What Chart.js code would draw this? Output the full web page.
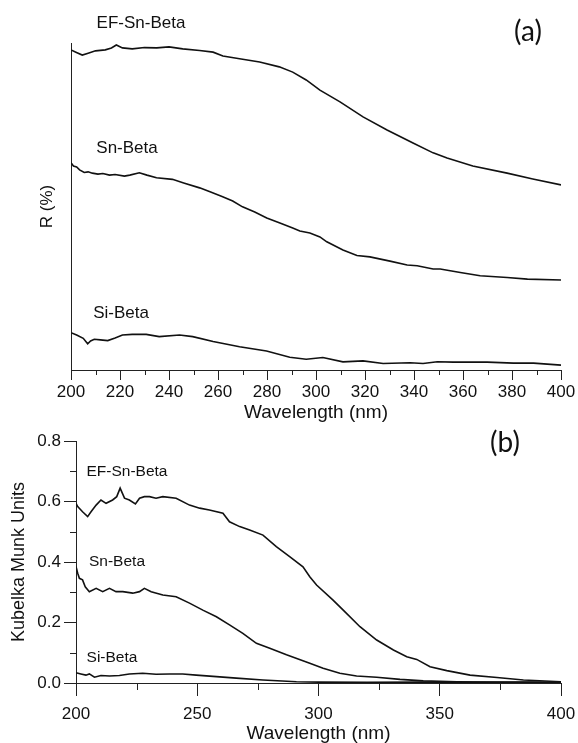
<!DOCTYPE html>
<html><head><meta charset="utf-8">
<script src="https://cdn.jsdelivr.net/npm/chart.js@4.4.1/dist/chart.umd.min.js"></script>
<style>
html,body{margin:0;padding:0;background:#fff;overflow:hidden;width:578px;height:743px;}
canvas{position:absolute;left:0;top:0;}
</style></head><body>
<canvas id="cTop" width="578" height="743"></canvas>
<canvas id="cBot" width="578" height="760"></canvas>
<script>
// ---------- Panel (a): Reflectance (arbitrary R % scale, no ticks shown) ----------
const topNmEF = [200,202,204.6,207,210,214,216.5,218.5,221,225,230,235,240,245.6,252.5,258,262,268.8,277,285,290.5,296,301.6,309.8,319.2,329,339.6,347.8,353.5,364,378,388.5,400];
const topEF   = [97.9,97.2,96.3,96.9,97.6,97.9,98.5,99.4,98.5,98.2,98.6,98.5,98.8,98.2,97.7,97.2,96.0,95.2,94.2,92.7,91.1,88.7,85.6,82.0,77.4,73.4,69.4,66.4,64.8,62.4,60.2,58.4,56.6];

const topNmSn = [200,201,202.3,203.5,205.4,207,208.7,211,213,215.7,218,221.8,224,227.9,231,234.9,241.4,246,252.5,257,261.9,266,270,275,279.9,285,290.5,293.4,297.5,301.6,304.4,311,316.7,322,330.2,337.2,341.3,347.8,350.7,358.9,367,378,386.3,400];
const topSn   = [63.4,62.4,62.1,61.2,60.4,60.6,60.2,59.9,60.1,59.6,59.8,59.3,59.6,60.3,59.6,58.8,58.3,57.2,55.7,54.4,53.0,51.7,49.9,48.3,46.5,45.0,43.4,42.5,41.9,40.7,39.2,36.7,35.0,34.6,33.3,32.1,31.9,30.9,30.9,29.8,28.8,28.3,27.8,27.5];

const topNmSi = [200,202.3,205,206.8,208,209.5,212,215,218,221,225,230.7,236,244.3,249.7,258,268.8,279.8,289.3,296,302.8,311,319.2,327.4,338.4,343.7,349.5,356,369.9,380.6,388.8,400];
const topSi   = [11.4,10.7,9.7,8.0,8.9,9.4,9.2,9.0,9.8,10.7,10.9,10.9,10.2,10.7,10.2,8.7,7.1,5.8,3.9,3.3,3.8,2.5,2.8,2.0,2.2,2.0,2.5,2.4,2.4,2.1,2.1,1.5];

// ---------- Panel (b): Kubelka-Munk ----------
const botNmEF = [200,200.7,202.7,204.8,206.2,208.3,210.3,212.4,215.1,216.8,218.2,220,222,224.5,226.2,228.2,230.3,233,235.8,241.3,246.8,251,255,260.6,263.3,267.5,271.6,277.1,282.6,288.1,293.6,296.4,299.2,306,310.2,317.1,324,330.9,336.4,340.5,346,352.9,362.5,373.6,384.5,400];
const botEF   = [0.594,0.583,0.566,0.55,0.566,0.588,0.605,0.594,0.605,0.616,0.644,0.611,0.605,0.592,0.611,0.616,0.616,0.611,0.616,0.611,0.588,0.578,0.572,0.561,0.533,0.517,0.506,0.489,0.451,0.418,0.384,0.351,0.324,0.274,0.241,0.186,0.142,0.109,0.087,0.078,0.054,0.041,0.026,0.018,0.010,0.004];

const botNmSn = [200,200.7,201.4,202.7,203.8,205.5,208.3,211,213.8,216.5,219.3,223.4,226.2,228.2,231,235.8,241.3,246.8,252.3,257.9,263.3,268.8,274.4,279.9,286.8,296.4,301.9,308.8,315.7,324,333.6,343.2,357,371,385,400];
const botSn   = [0.385,0.363,0.346,0.341,0.318,0.302,0.313,0.302,0.313,0.302,0.302,0.297,0.302,0.313,0.302,0.291,0.285,0.264,0.241,0.219,0.192,0.164,0.131,0.115,0.093,0.065,0.049,0.032,0.023,0.019,0.012,0.007,0.004,0.003,0.002,0.001];

const botNmSi = [200,202,204.1,205.5,207.6,210.3,213.8,217.9,222,227.5,233,238.6,244,249.6,257.9,266.1,277.1,290.9,300,320,342,360,388,400];
const botSi   = [0.034,0.030,0.026,0.030,0.019,0.025,0.023,0.025,0.030,0.032,0.029,0.030,0.030,0.026,0.021,0.016,0.010,0.004,0.003,0.002,0.003,0.002,0.003,0.002];

// tick values
const topMinorX = [210,230,250,270,290,310,330,350,370,390];
const botMinorX = [225,275,325,375];
const botMinorY = [0.1,0.3,0.5,0.7];

const FONT = '"Liberation Sans", Arial, Helvetica, sans-serif';
Chart.defaults.font.family = FONT;
Chart.defaults.color = '#111';

function mk(xs, ys){
  return {data: xs.map((x,i)=>({x:x, y:ys[i]})), borderColor:'#111', borderWidth:1.6, pointRadius:0, tension:0, fill:false};
}

function minorPlugin(xVals, xLen, yVals, yLen){
  return {id:'minor', afterDraw(chart){
    const ctx = chart.ctx, xs = chart.scales.x, ys = chart.scales.y, a = chart.chartArea;
    ctx.save(); ctx.strokeStyle = '#222'; ctx.lineWidth = 1;
    xVals.forEach(v=>{ const p = Math.round(xs.getPixelForValue(v))+0.5;
      ctx.beginPath(); ctx.moveTo(p, a.bottom); ctx.lineTo(p, a.bottom + xLen); ctx.stroke(); });
    yVals.forEach(v=>{ const p = Math.round(ys.getPixelForValue(v))+0.5;
      ctx.beginPath(); ctx.moveTo(a.left, p); ctx.lineTo(a.left - yLen, p); ctx.stroke(); });
    ctx.restore();
  }};
}

function labelPlugin(items){
  return {id:'labels', afterDraw(chart){
    const ctx = chart.ctx; ctx.save(); ctx.fillStyle = '#111';
    ctx.textAlign = 'center'; ctx.textBaseline = 'middle';
    items.forEach(it=>{ ctx.font = it.font; ctx.fillText(it.t, it.x, it.y); });
    ctx.restore();
  }};
}

const common = {
  responsive:false, animation:false, devicePixelRatio:1,
  plugins:{legend:{display:false}, tooltip:{enabled:false}},
  elements:{point:{radius:0}}
};

// ---- Top chart (a)
new Chart(document.getElementById('cTop'), {
  type:'line',
  data:{datasets:[mk(topNmEF, topEF), mk(topNmSn, topSn), mk(topNmSi, topSi)]},
  options:Object.assign({}, common, {
    layout:{padding:{top:43, left:0, right:17, bottom:315}},
    scales:{
      x:{type:'linear', min:200, max:400,
        ticks:{stepSize:20, autoSkip:false, maxRotation:0, padding:2, color:'#111', font:{size:17}},
        grid:{display:true, drawOnChartArea:false, drawTicks:true, tickLength:10, color:'#222', tickColor:'#222'},
        border:{display:true, color:'#222', width:1},
        title:{display:true, text:'Wavelength (nm)', color:'#111', font:{size:19}, padding:{top:0, bottom:4}},
        afterFit(s){ s.height = 58; s.paddingLeft = 0; s.paddingRight = 0; }},
      y:{type:'linear', min:0, max:100,
        ticks:{display:false},
        grid:{display:false, drawTicks:false},
        border:{display:true, color:'#222', width:1},
        title:{display:true, text:'R (%)', color:'#111', font:{size:17}, padding:{top:37, bottom:0}},
        afterFit(s){ s.width = 71; s.paddingTop = 0; s.paddingBottom = 0; }}
    }
  }),
  plugins:[minorPlugin(topMinorX, 5, [], 0), labelPlugin([
    {t:'EF-Sn-Beta', x:141, y:23, font:'17px '+FONT},
    {t:'Sn-Beta', x:127, y:148, font:'17px '+FONT},
    {t:'Si-Beta', x:121, y:313, font:'17px '+FONT},
    {t:'(a)', x:528, y:32, font:'28px Lato, "Open Sans", sans-serif'}
  ])]
});

// ---- Bottom chart (b)
new Chart(document.getElementById('cBot'), {
  type:'line',
  data:{datasets:[mk(botNmEF, botEF), mk(botNmSn, botSn), mk(botNmSi, botSi)]},
  options:Object.assign({}, common, {
    layout:{padding:{top:441, left:0, right:17, bottom:15}},
    scales:{
      x:{type:'linear', min:200, max:400,
        ticks:{stepSize:50, autoSkip:false, maxRotation:0, padding:8, color:'#111', font:{size:17}},
        grid:{display:true, drawOnChartArea:false, drawTicks:true, tickLength:13, color:'#222', tickColor:'#222'},
        border:{display:true, color:'#222', width:1},
        title:{display:true, text:'Wavelength (nm)', color:'#111', font:{size:19}, padding:{top:0, bottom:0}},
        afterFit(s){ s.height = 62; s.paddingLeft = 0; s.paddingRight = 0; }},
      y:{type:'linear', min:0, max:0.8,
        ticks:{stepSize:0.2, padding:3, color:'#111', font:{size:17}, callback:v=>Number(v).toFixed(1)},
        grid:{display:true, drawOnChartArea:false, drawTicks:true, tickLength:12, color:'#222', tickColor:'#222'},
        border:{display:true, color:'#222', width:1},
        title:{display:true, text:'Kubelka Munk Units', color:'#111', font:{size:18}, padding:{top:8, bottom:0}},
        afterFit(s){ s.width = 76; s.paddingTop = 0; s.paddingBottom = 0; }}
    }
  }),
  plugins:[minorPlugin(botMinorX, 7, botMinorY, 6), labelPlugin([
    {t:'EF-Sn-Beta', x:127, y:472, font:'15.5px '+FONT},
    {t:'Sn-Beta', x:117, y:562, font:'15.5px '+FONT},
    {t:'Si-Beta', x:112, y:658, font:'15.5px '+FONT},
    {t:'(b)', x:505, y:443, font:'28px Lato, "Open Sans", sans-serif'}
  ])]
});
</script>
</body></html>
